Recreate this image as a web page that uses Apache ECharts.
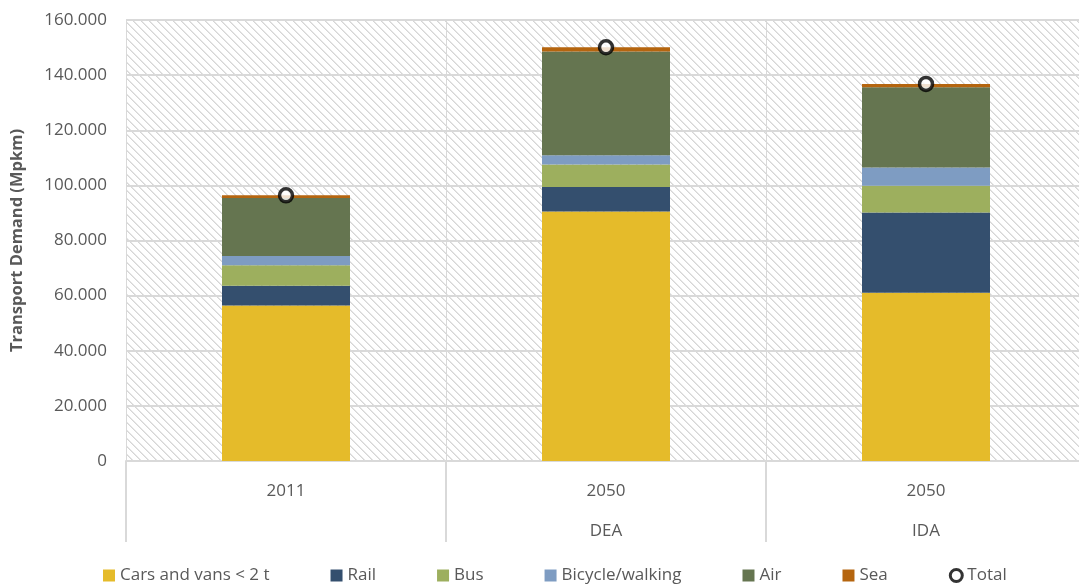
<!DOCTYPE html>
<html>
<head>
<meta charset="utf-8">
<script src="https://cdn.jsdelivr.net/npm/echarts@6/dist/echarts.min.js"></script>
<style>
  html, body { margin: 0; padding: 0; background: #ffffff; }
  #chart { width: 1079px; height: 585px; }
</style>
</head>
<body>
<div id="chart"></div>
<script>
// Passenger transport demand by mode (Mpkm, thousands)
const years     = ['2011', '2050', '2050'];
const scenarios = ['', 'DEA', 'IDA'];

const cars    = [56400, 90500, 61000];
const rail    = [7200, 8900, 29200];
const bus     = [7400, 8200, 9700];
const bicycle = [3400, 3300, 6600];
const air     = [21000, 37700, 29100];
const sea     = [1000, 1500, 1200];
const total   = [96400, 150100, 136800];

const yTicks = { min: 0, max: 160000, interval: 20000 };

const FONT = '"Open Sans", "Noto Sans", sans-serif';

// Diagonal hatch fill for the plotting area
function hatch() {
  const c = document.createElement('canvas');
  c.width = 8; c.height = 8;
  const g = c.getContext('2d');
  g.fillStyle = '#ffffff';
  g.fillRect(0, 0, 8, 8);
  for (let i = 0; i < 8; i++) {
    g.fillStyle = '#d6d6d6';
    g.fillRect(i, i, 1, 1);
    g.fillStyle = '#e6e6e6';
    g.fillRect((i + 1) % 8, i, 1, 1);
  }
  return c;
}

function fmt(v) {
  if (v === 0) return '0';
  const s = String(Math.round(v));
  return s.replace(/\B(?=(\d{3})+(?!\d))/g, '.');
}

const categories = years.map((y, i) => y + '\n' + scenarios[i]);

function bar(name, data, color) {
  return {
    name, type: 'bar', stack: 'demand', data,
    barWidth: 128,
    itemStyle: { color },
    emphasis: { disabled: true }
  };
}

const chart = echarts.init(document.getElementById('chart'), null, { renderer: 'canvas' });
chart.setOption({
  animation: false,
  textStyle: { fontFamily: FONT },
  grid: {
    left: 126, top: 20, width: 960, bottom: 124,
    outerBoundsMode: 'none',
    containLabel: false,
    show: true,
    backgroundColor: { image: hatch(), repeat: 'repeat' },
    borderWidth: 0
  },
  legend: {
    bottom: -4, left: 98,
    itemWidth: 12, itemHeight: 12, itemGap: 61,
    textStyle: { fontSize: 17, color: '#595959', fontFamily: FONT },
    data: [
      { name: 'Cars and vans < 2 t', icon: 'rect' },
      { name: 'Rail', icon: 'rect' },
      { name: 'Bus', icon: 'rect' },
      { name: 'Bicycle/walking', icon: 'rect' },
      { name: 'Air', icon: 'rect' },
      { name: 'Sea', icon: 'rect' },
      { name: 'Total', icon: 'circle', itemStyle: { color: '#ffffff', borderColor: '#000000', borderWidth: 3 } }
    ]
  },
  xAxis: {
    type: 'category',
    data: categories,
    boundaryGap: true,
    axisLine: { lineStyle: { color: '#d9d9d9', width: 2 } },
    axisTick: { show: true, length: 81, interval: 0, lineStyle: { color: '#d9d9d9', width: 2 } },
    splitLine: { show: true, interval: 0, lineStyle: { color: '#d9d9d9', width: 1 } },
    axisLabel: {
      interval: 0, margin: 10,
      fontSize: 17, color: '#595959', lineHeight: 40,
      fontFamily: FONT
    }
  },
  yAxis: {
    type: 'value',
    min: yTicks.min, max: yTicks.max, interval: yTicks.interval,
    name: 'Transport Demand (Mpkm)',
    nameLocation: 'middle',
    nameGap: 100,
    nameRotate: 90,
    nameTextStyle: { fontSize: 16.5, fontWeight: 'bold', color: '#595959', fontFamily: FONT },
    axisLine: { show: false },
    axisTick: { show: false },
    splitLine: { lineStyle: { color: '#d9d9d9', width: 2 } },
    axisLabel: { formatter: fmt, fontSize: 17, color: '#595959', margin: 19, fontFamily: FONT }
  },
  series: [
    bar('Cars and vans < 2 t', cars, '#E5BB2A'),
    bar('Rail', rail, '#344F6E'),
    bar('Bus', bus, '#9DAF5E'),
    bar('Bicycle/walking', bicycle, '#7E9CC2'),
    bar('Air', air, '#657550'),
    bar('Sea', sea, '#B5650F'),
    {
      name: 'Total', type: 'scatter', data: total,
      symbol: 'circle', symbolSize: 13,
      itemStyle: { color: '#ffffff', borderColor: '#000000', borderWidth: 3.5 },
      z: 5,
      emphasis: { disabled: true }
    }
  ]
});
</script>
</body>
</html>
